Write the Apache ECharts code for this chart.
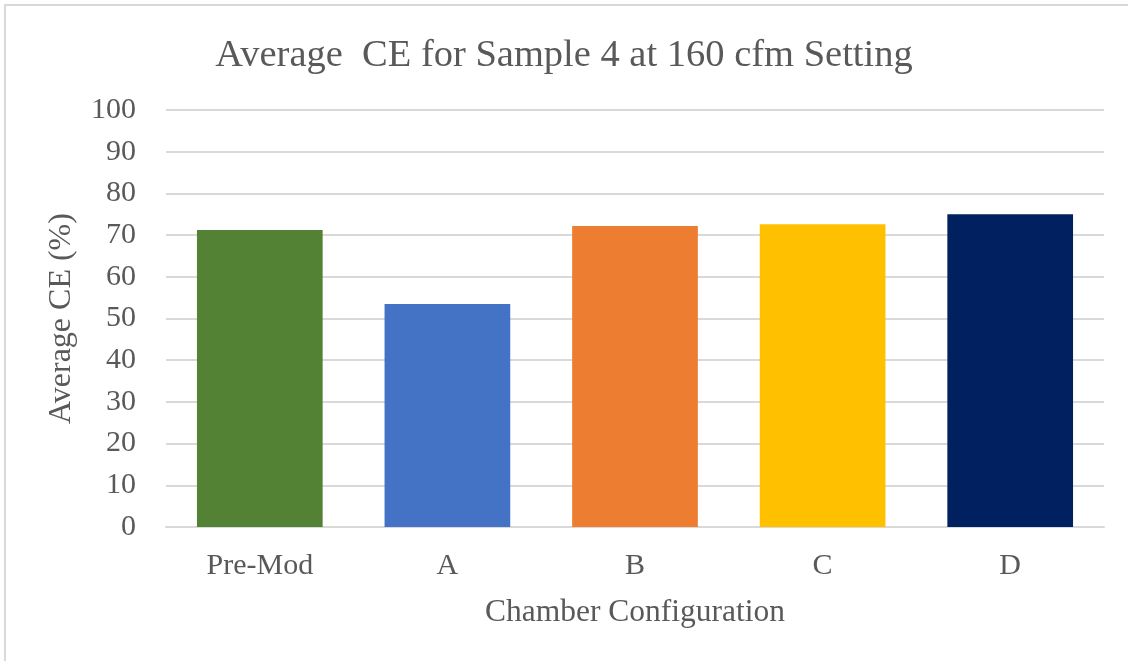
<!DOCTYPE html>
<html>
<head>
<meta charset="utf-8">
<script src="https://cdn.jsdelivr.net/npm/echarts@6/dist/echarts.min.js"></script>
<style>
html,body{margin:0;padding:0;background:#fff;}
#main{width:1128px;height:661px;}
</style>
</head>
<body>
<div id="main"></div>
<script>
const categories = ['Pre-Mod', 'A', 'B', 'C', 'D'];
const values = [71.2, 53.5, 72.2, 72.6, 75.0];
const barColors = ['#548235', '#4472c4', '#ed7d31', '#ffc000', '#002060'];
const titleText = 'Average  CE for Sample 4 at 160 cfm Setting';
const xName = 'Chamber Configuration';
const yName = 'Average CE (%)';

const font = '"Liberation Serif", "Times New Roman", serif';
const chart = echarts.init(document.getElementById('main'));
chart.setOption({
  backgroundColor: '#fff',
  animation: false,
  graphic: [{
    type: 'rect', silent: true,
    shape: { x: 5, y: 5, width: 1200, height: 700 },
    style: { fill: 'none', stroke: '#d9d9d9', lineWidth: 2 }
  }],
  title: {
    text: titleText, left: 'center', top: 31,
    textStyle: { fontFamily: font, fontSize: 38.5, fontWeight: 'normal', color: '#595959' }
  },
  grid: { left: 166, right: 24, top: 110, bottom: 134, containLabel: false },
  xAxis: {
    type: 'category', data: categories,
    name: xName, nameLocation: 'middle', nameGap: 70,
    nameTextStyle: { fontFamily: font, fontSize: 31.5, color: '#595959' },
    axisLine: { lineStyle: { color: '#d9d9d9', width: 2 } },
    axisTick: { show: false },
    axisLabel: { fontFamily: font, fontSize: 30, color: '#595959', margin: 24 }
  },
  yAxis: {
    type: 'value', min: 0, max: 100, interval: 10,
    name: yName, nameLocation: 'middle', nameGap: 88, nameRotate: 90,
    nameTextStyle: { fontFamily: font, fontSize: 32, color: '#595959' },
    axisLine: { show: false }, axisTick: { show: false },
    axisLabel: { fontFamily: font, fontSize: 30, color: '#595959', margin: 30 },
    splitLine: { lineStyle: { color: '#d9d9d9', width: 2 } }
  },
  series: [{
    type: 'bar', barWidth: '67%',
    data: values.map((v, i) => ({ value: v, itemStyle: { color: barColors[i] } }))
  }]
});
</script>
</body>
</html>
